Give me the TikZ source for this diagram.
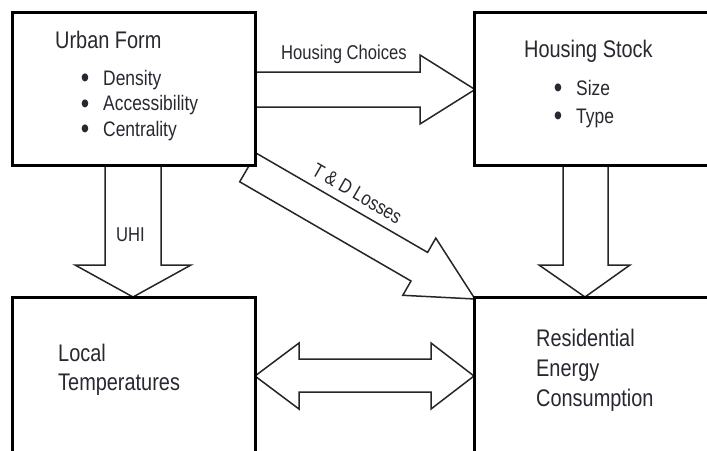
\documentclass[tikz,border=0pt]{standalone}
\usepackage{fontspec}
\setmainfont[FakeStretch=0.83]{Liberation Sans}
\definecolor{txt}{RGB}{40,40,48}
\newcommand{\bigbul}{\llap{\raisebox{-2.5pt}{\fontsize{29}{25}\selectfont\textbullet}\hspace{14pt}}}
\begin{document}
\begin{tikzpicture}[x=1pt,y=-1pt,
  box/.style={draw=black,line width=3pt,fill=white,inner sep=0pt,outer sep=0pt},
  blockarrow/.style={draw=black!85,line width=1.5pt,fill=white,line join=miter},
  title/.style={anchor=base west,inner sep=0pt,text=txt,font=\fontsize{24}{29}\selectfont},
  item/.style={anchor=base west,inner sep=0pt,text=txt,font=\fontsize{21}{25}\selectfont},
  lbl/.style={inner sep=0pt,text=txt,font=\fontsize{20}{24}\selectfont}]
\clip (0,0) rectangle (707,450);
\fill[white] (0,0) rectangle (707,450);
% block arrows (drawn first, boxes cover their ends)
\draw[blockarrow] (255,72) -- (420,72) -- (420,55) -- (475,89.5) -- (420,124) -- (420,107) -- (255,107) -- cycle;
\draw[blockarrow] (105,165) -- (105,265) -- (75,265) -- (133,297) -- (191,265) -- (161,265) -- (161,165) -- cycle;
\draw[blockarrow] (563,165) -- (563,265) -- (539,265) -- (585,297) -- (630,265) -- (608,265) -- (608,165) -- cycle;
\draw[blockarrow] (255,376) -- (299,343) -- (299,359) -- (431,359) -- (431,343) -- (474,376) -- (431,409) -- (431,392) -- (299,392) -- (299,409) -- cycle;
\draw[blockarrow] (256.3,153.2) -- (427.6,252.4) -- (435.8,238.1) -- (475,299) -- (402.8,295.3) -- (411.0,281.0) -- (239.7,181.8) -- cycle;
% boxes
\node[box,minimum width=243pt,minimum height=153pt] (uf) at (133.5,88.5) {};
\node[box,minimum width=256pt,minimum height=153pt] (hs) at (602,88.5) {};
\node[box,minimum width=243pt,minimum height=183pt] (lt) at (133.5,388.5) {};
\node[box,minimum width=256pt,minimum height=183pt] (rec) at (602,388.5) {};
% texts
\node[title] (uft) at (55,48.3) {Urban Form};
\node[item] (uf1) at (103,85) {\bigbul Density};
\node[item] (uf2) at (103,110.5) {\bigbul Accessibility};
\node[item] (uf3) at (103,136) {\bigbul Centrality};
\node[title] (hst) at (524,57) {Housing Stock};
\node[item] (hs1) at (576,95) {\bigbul Size};
\node[item] (hs2) at (576,123) {\bigbul Type};
\node[title] (lt1) at (58,361) {Local};
\node[title] (lt2) at (58,390) {Temperatures};
\node[title] (re1) at (536,346.7) {Residential};
\node[title] (re2) at (536,376.5) {Energy};
\node[title] (re3) at (536,406) {Consumption};
\node[lbl,anchor=base west] (hc) at (281,59.3) {Housing Choices};
\node[lbl,anchor=base west] (uhi) at (116,241.7) {UHI};
\node[lbl,anchor=base,rotate=-30.08] (td) at (353.8,199.3) {T \& D Losses};
\end{tikzpicture}
\end{document}
